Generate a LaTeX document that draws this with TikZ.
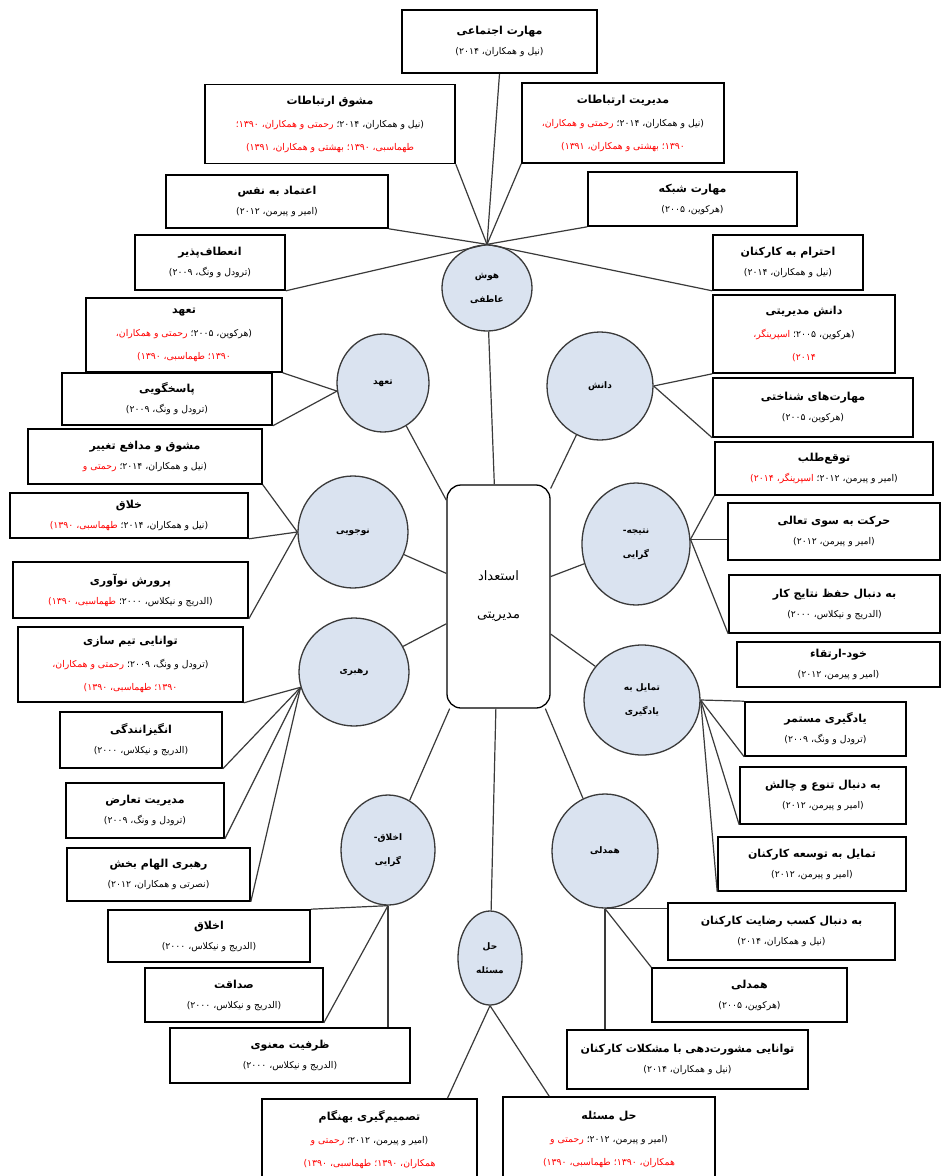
\documentclass[tikz,border=0pt]{standalone}
\usepackage{fontspec}
\usetikzlibrary{shapes.geometric,calc}
\newfontfamily\fa[Script=Arabic]{DejaVu Sans}
\TeXXeTstate=1
\definecolor{cfill}{HTML}{DAE3F0}
\definecolor{lnc}{HTML}{3A3A3A}
\newcommand\ttl[1]{{\bfseries\fontsize{11}{12}\selectfont\beginR#1\endR}}
\newcommand\cit[1]{{\fontsize{9.3}{10}\selectfont\beginR#1\endR}}
\newcommand\rcit[1]{{\fontsize{9.3}{10}\selectfont\color{red}\beginR#1\endR}}
\newcommand\mcit[2]{{\fontsize{9.3}{10}\selectfont{\color{red}\beginR#2\endR}\space\beginR#1\endR}}
\newcommand\cl[1]{{\bfseries\fontsize{9}{11}\selectfont\beginR#1\endR}}
\tikzset{
  box/.style={draw=black,line width=1.6pt,fill=white,align=center,inner sep=0pt,
    font=\fa\fontsize{9.3}{20}\selectfont},
  box3/.style={box,font=\fa\fontsize{9.3}{23}\selectfont},
  circ/.style={ellipse,draw=lnc,line width=1.3pt,fill=cfill,align=center,inner sep=0pt,
    font=\fa\fontsize{9}{24}\selectfont},
  link/.style={draw=lnc,line width=1.2pt},
}
\begin{document}
\begin{tikzpicture}[x=1pt,y=-1pt]
\clip (0,0) rectangle (942,1176);
\fill[white] (0,0) rectangle (942,1176);

% centre
\node[draw=black,line width=1.3pt,rounded corners=14pt,fill=white,minimum width=103pt,minimum height=223pt,align=center,inner sep=0pt,font=\fa\fontsize{13}{38}\selectfont] (cen) at (498.5,596.5) {\beginR استعداد\endR\\\beginR مدیریتی\endR};

% circles
\node[circ,minimum width=90pt,minimum height=86pt] (h) at (487,288) {\cl{هوش}\\\cl{عاطفی}};
\node[circ,minimum width=92pt,minimum height=98pt] (c2) at (383,383) {\cl{تعهد}};
\node[circ,minimum width=106pt,minimum height=108pt] (c3) at (600,386) {\cl{دانش}};
\node[circ,minimum width=110pt,minimum height=112pt] (c4) at (353,532) {\cl{نوجویی}};
\node[circ,minimum width=108pt,minimum height=122pt] (c5) at (636,544) {\cl{نتیجه-}\\\cl{گرایی}};
\node[circ,minimum width=110pt,minimum height=108pt] (c6) at (354,672) {\cl{رهبری}};
\node[circ,minimum width=116pt,minimum height=110pt] (c7) at (642,700) {\cl{تمایل به}\\\cl{یادگیری}};
\node[circ,minimum width=94pt,minimum height=110pt] (c8) at (388,850) {\cl{اخلاق-}\\\cl{گرایی}};
\node[circ,minimum width=106pt,minimum height=114pt] (c9) at (605,851) {\cl{همدلی}};
\node[circ,minimum width=64pt,minimum height=94pt] (c10) at (490,958) {\cl{حل}\\\cl{مسئله}};

% boxes
\node[box,minimum width=195pt,minimum height=63pt] (s1) at (499.5,41.5) {\ttl{مهارت اجتماعی}\\\cit{(نیل و همکاران، ۲۰۱۴)}};
\node[box3,minimum width=250pt,minimum height=79pt] (s2) at (330,124) {\ttl{مشوق ارتباطات}\\\mcit{(نیل و همکاران، ۲۰۱۴؛}{رحمتی و همکاران، ۱۳۹۰؛}\\\rcit{طهماسبی، ۱۳۹۰؛ بهشتی و همکاران، ۱۳۹۱)}};
\node[box3,minimum width=202pt,minimum height=80pt] (s3) at (623,123) {\ttl{مدیریت ارتباطات}\\\mcit{(نیل و همکاران، ۲۰۱۴؛}{رحمتی و همکاران،}\\\rcit{۱۳۹۰؛ بهشتی و همکاران، ۱۳۹۱)}};
\node[box,minimum width=222pt,minimum height=53pt] (s4) at (277,201.5) {\ttl{اعتماد به نفس}\\\cit{(امیر و پیرمن، ۲۰۱۲)}};
\node[box,minimum width=209pt,minimum height=54pt] (s5) at (692.5,199) {\ttl{مهارت شبکه}\\\cit{(هرکوین، ۲۰۰۵)}};
\node[box,minimum width=150pt,minimum height=55pt] (s6) at (210,262.5) {\ttl{انعطاف‌پذیر}\\\cit{(ترودل و ونگ، ۲۰۰۹)}};
\node[box,minimum width=150pt,minimum height=55pt] (s7) at (788,262.5) {\ttl{احترام به کارکنان}\\\cit{(نیل و همکاران، ۲۰۱۴)}};
\node[box3,minimum width=196pt,minimum height=74pt] (s8) at (184,335) {\ttl{تعهد}\\\mcit{(هرکوین، ۲۰۰۵؛}{رحمتی و همکاران،}\\\rcit{۱۳۹۰؛ طهماسبی، ۱۳۹۰)}};
\node[box,minimum width=210pt,minimum height=52pt] (s9) at (167,399) {\ttl{پاسخگویی}\\\cit{(ترودل و ونگ، ۲۰۰۹)}};
\node[box3,minimum width=182pt,minimum height=78pt] (s10) at (804,334) {\ttl{دانش مدیریتی}\\\mcit{(هرکوین، ۲۰۰۵؛}{اسپرینگر،}\\\rcit{۲۰۱۴)}};
\node[box,minimum width=200pt,minimum height=59pt] (s11) at (813,407.5) {\ttl{مهارت‌های شناختی}\\\cit{(هرکوین، ۲۰۰۵)}};
\node[box,minimum width=234pt,minimum height=55pt] (s12) at (145,456.5) {\ttl{مشوق و مدافع تغییر}\\\mcit{(نیل و همکاران، ۲۰۱۴؛}{رحمتی و}};
\node[box,minimum width=238pt,minimum height=45pt] (s13) at (129,515.5) {\ttl{خلاق}\\\mcit{(نیل و همکاران، ۲۰۱۴؛}{طهماسبی، ۱۳۹۰)}};
\node[box,minimum width=235pt,minimum height=56pt] (s14) at (130.5,590) {\ttl{پرورش نوآوری}\\\mcit{(الدریج و نیکلاس، ۲۰۰۰؛}{طهماسبی، ۱۳۹۰)}};
\node[box,minimum width=218pt,minimum height=53pt] (s15) at (824,468.5) {\ttl{توقع‌طلب}\\\mcit{(امیر و پیرمن، ۲۰۱۲؛}{اسپرینگر، ۲۰۱۴)}};
\node[box,minimum width=212pt,minimum height=57pt] (s16) at (834,531.5) {\ttl{حرکت به سوی تعالی}\\\cit{(امیر و پیرمن، ۲۰۱۲)}};
\node[box,minimum width=211pt,minimum height=58pt] (s17) at (834.5,604) {\ttl{به دنبال حفظ نتایج کار}\\\cit{(الدریج و نیکلاس، ۲۰۰۰)}};
\node[box,minimum width=203pt,minimum height=45pt] (s18) at (838.5,664.5) {\ttl{خود-ارتقاء}\\\cit{(امیر و پیرمن، ۲۰۱۲)}};
\node[box,minimum width=161pt,minimum height=54pt] (s19) at (825.5,729) {\ttl{یادگیری مستمر}\\\cit{(ترودل و ونگ، ۲۰۰۹)}};
\node[box,minimum width=166pt,minimum height=57pt] (s20) at (823,795.5) {\ttl{به دنبال تنوع و چالش}\\\cit{(امیر و پیرمن، ۲۰۱۲)}};
\node[box,minimum width=188pt,minimum height=54pt] (s21) at (812,864) {\ttl{تمایل به توسعه کارکنان}\\\cit{(امیر و پیرمن، ۲۰۱۲)}};
\node[box3,minimum width=225pt,minimum height=75pt] (s22) at (130.5,664.5) {\ttl{توانایی تیم سازی}\\\mcit{(ترودل و ونگ، ۲۰۰۹؛}{رحمتی و همکاران،}\\\rcit{۱۳۹۰؛ طهماسبی، ۱۳۹۰)}};
\node[box,minimum width=162pt,minimum height=56pt] (s23) at (141,740) {\ttl{انگیزانندگی}\\\cit{(الدریج و نیکلاس، ۲۰۰۰)}};
\node[box,minimum width=158pt,minimum height=55pt] (s24) at (145,810.5) {\ttl{مدیریت تعارض}\\\cit{(ترودل و ونگ، ۲۰۰۹)}};
\node[box,minimum width=183pt,minimum height=53pt] (s25) at (158.5,874.5) {\ttl{رهبری الهام بخش}\\\cit{(نصرتی و همکاران، ۲۰۱۲)}};
\node[box,minimum width=202pt,minimum height=52pt] (s26) at (209,936) {\ttl{اخلاق}\\\cit{(الدریج و نیکلاس، ۲۰۰۰)}};
\node[box,minimum width=178pt,minimum height=54pt] (s27) at (234,995) {\ttl{صداقت}\\\cit{(الدریج و نیکلاس، ۲۰۰۰)}};
\node[box,minimum width=240pt,minimum height=55pt] (s28) at (290,1055.5) {\ttl{ظرفیت معنوی}\\\cit{(الدریج و نیکلاس، ۲۰۰۰)}};
\node[box,minimum width=227pt,minimum height=57pt] (s29) at (781.5,931.5) {\ttl{به دنبال کسب رضایت کارکنان}\\\cit{(نیل و همکاران، ۲۰۱۴)}};
\node[box,minimum width=195pt,minimum height=54pt] (s30) at (749.5,995) {\ttl{همدلی}\\\cit{(هرکوین، ۲۰۰۵)}};
\node[box,minimum width=241pt,minimum height=59pt] (s31) at (687.5,1059.5) {\ttl{توانایی مشورت‌دهی با مشکلات کارکنان}\\\cit{(نیل و همکاران، ۲۰۱۴)}};
\node[box3,minimum width=215pt,minimum height=82pt] (s32) at (369.5,1140) {\ttl{تصمیم‌گیری بهنگام}\\\mcit{(امیر و پیرمن، ۲۰۱۲؛}{رحمتی و}\\\rcit{همکاران، ۱۳۹۰؛ طهماسبی، ۱۳۹۰)}};
\node[box3,minimum width=212pt,minimum height=84pt] (s33) at (609,1139) {\ttl{حل مسئله}\\\mcit{(امیر و پیرمن، ۲۰۱۲؛}{رحمتی و}\\\rcit{همکاران، ۱۳۹۰؛ طهماسبی، ۱۳۹۰)}};

% connectors centre - circles
\foreach \c in {h,c2,c3,c4,c5,c6,c7,c8,c9,c10} \draw[link] (cen) -- (\c);

\draw[link] (s1.south) -- (h.north);
\foreach \b in {s2,s4,s6} \draw[link] (\b.south east) -- (h.north);
\foreach \b in {s3,s5,s7} \draw[link] (\b.south west) -- (h.north);
\foreach \b in {s8,s9} \draw[link] (\b.south east) -- (c2.190);
\foreach \b in {s10,s11} \draw[link] (\b.south west) -- (c3.east);
\foreach \b in {s12,s13,s14} \draw[link] (\b.south east) -- (c4.west);
\draw[link] (c5.5) -- (s15.south west);
\draw[link] (c5.5) -- (c5.5 -| s16.west);
\draw[link] (c5.5) -- (s17.south west);
\draw[link] (c7.east) -- (s19.north west);
\foreach \b in {s19,s20,s21} \draw[link] (c7.east) -- (\b.south west);
\foreach \b in {s22,s23,s24,s25} \draw[link] (\b.south east) -- (c6.196);
\draw[link] (s26.north east) -- (c8.south);
\draw[link] (s27.south east) -- (c8.south);
\draw[link] (c8.south) -- (c8.south |- s28.north);
\draw[link] (c9.south) -- (c9.south -| s29.west);
\draw[link] (c9.south) -- (s30.north west);
\draw[link] (c9.south) -- (c9.south |- s31.north);
\draw[link] (c10.south) -- ($(s32.north west)!0.86!(s32.north east)$);
\draw[link] (c10.south) -- ($(s33.north west)!0.22!(s33.north east)$);
\end{tikzpicture}
\end{document}
